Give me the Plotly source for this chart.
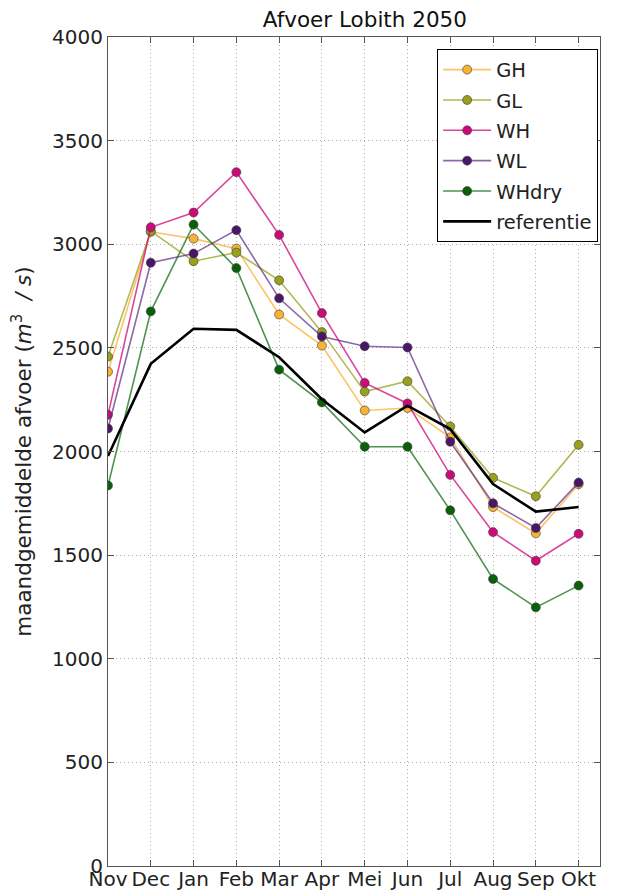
import plotly.graph_objects as go

months = ['Nov', 'Dec', 'Jan', 'Feb', 'Mar', 'Apr', 'Mei', 'Jun', 'Jul', 'Aug', 'Sep', 'Okt']

gh = [2385, 3060, 3027, 2979, 2661, 2511, 2198, 2210, 2068, 1732, 1605, 1842]
gl = [2458, 3063, 2918, 2960, 2826, 2576, 2289, 2339, 2121, 1873, 1784, 2032]
wh = [2177, 3082, 3153, 3348, 3045, 2668, 2331, 2232, 1887, 1611, 1473, 1603]
wl = [2111, 2911, 2955, 3068, 2739, 2555, 2508, 2502, 2047, 1750, 1631, 1850]
whdry = [1836, 2676, 3095, 2885, 2395, 2237, 2023, 2023, 1716, 1385, 1248, 1353]
referentie = [1978, 2423, 2592, 2587, 2455, 2252, 2092, 2221, 2108, 1843, 1710, 1732]

# (name, values, marker colour, line colour)
series = [
    ('GH', gh, '#f8b234', 'rgba(248,178,52,0.75)'),
    ('GL', gl, '#99a01c', 'rgba(153,160,28,0.75)'),
    ('WH', wh, '#cc0a7a', 'rgba(204,10,122,0.75)'),
    ('WL', wl, '#4a1768', 'rgba(90,40,130,0.7)'),
    ('WHdry', whdry, '#0a600a', 'rgba(20,110,20,0.75)'),
]

x = list(range(len(months)))
font = 'DejaVu Sans, Verdana, sans-serif'

fig = go.Figure()
for name, vals, mcol, lcol in series:
    fig.add_trace(go.Scatter(
        x=x, y=vals, mode='lines+markers', name=name,
        legendgroup=name,
        line=dict(color=lcol, width=1.6),
        marker=dict(color=mcol, size=9, line=dict(color='rgba(60,60,60,0.6)', width=1)),
    ))

fig.add_trace(go.Scatter(
    x=x, y=referentie, mode='lines', name='referentie',
    legendgroup='referentie',
    line=dict(color='black', width=2.6),
))

# page body has an 8px margin, so the figure is a bit smaller than the window
fig.update_layout(
    width=610, height=884,
    margin=dict(l=100, r=18, t=29, b=26),
    paper_bgcolor='white', plot_bgcolor='white',
    font=dict(family=font, size=20, color='#222'),
    title=dict(text='Afvoer Lobith 2050', x=0.585, xanchor='center',
               y=0.995, yanchor='top', font=dict(size=21.5, color='#111')),
    legend=dict(x=0.669, y=0.985, xanchor='left', yanchor='top',
                bordercolor='black', borderwidth=1, bgcolor='white',
                font=dict(size=19.5, color='#222'), tracegroupgap=2,
                itemwidth=48),
    showlegend=True,
)

grid_style = dict(showgrid=True, gridcolor='#b0b0b0', griddash='1px,3px', gridwidth=1)

fig.update_xaxes(
    range=[0, 11.5], tickvals=x, ticktext=months,
    showline=True, linecolor='#555', linewidth=1, mirror='ticks',
    ticks='inside', ticklen=6, tickcolor='#555',
    zeroline=False, tickfont=dict(size=20), automargin=False,
    ticklabelstandoff=-5,
    **grid_style,
)
fig.update_yaxes(
    range=[0, 4000], dtick=500,
    showline=True, linecolor='#555', linewidth=1, mirror='ticks',
    ticks='inside', ticklen=6, tickcolor='#555',
    zeroline=False, tickfont=dict(size=20), automargin=False,
    title=dict(text='maandgemiddelde afvoer (<i>m</i><sup>3</sup>  <i>/ s</i>)',
               font=dict(size=21.5), standoff=18),
    **grid_style,
)

fig.write_html("out.html")
